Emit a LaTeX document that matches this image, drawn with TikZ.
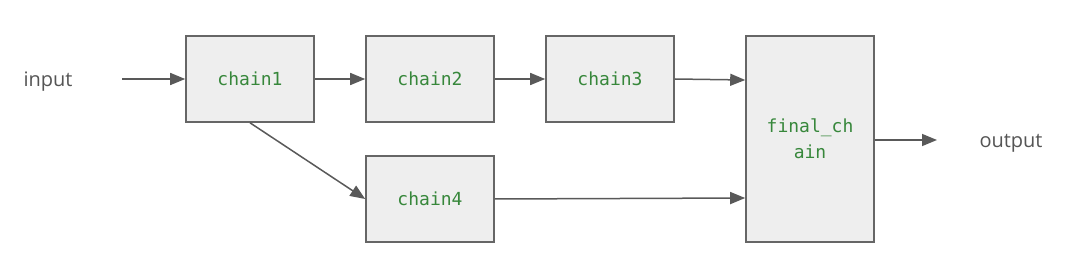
\documentclass[tikz,border=0pt]{standalone}
\usepackage{fontspec}
\setmainfont{Open Sans}
\setmonofont{DejaVu Sans Mono}
\usetikzlibrary{arrows.meta}
\definecolor{boxfill}{HTML}{EEEEEE}
\definecolor{boxline}{HTML}{666666}
\definecolor{txtgreen}{HTML}{37873B}
\definecolor{lblgrey}{HTML}{555555}
\definecolor{arrgrey}{HTML}{595959}
\begin{document}
\begin{tikzpicture}[x=1pt,y=-1pt,
  blk/.style={draw=boxline, line width=1.6pt, fill=boxfill, minimum width=128pt, minimum height=86pt, inner sep=0pt, align=center, text=txtgreen, font=\ttfamily\fontsize{18}{26}\selectfont},
  lbl/.style={text=lblgrey, font=\fontsize{20}{24}\selectfont, inner sep=0pt},
  conn/.style={draw=arrgrey, line width=1.5pt, -{Triangle[length=15pt,width=12pt]}}]
\useasboundingbox (0,0) rectangle (1086,264);
\node[blk] (c1) at (250,79) {chain1};
\node[blk] (c2) at (430,79) {chain2};
\node[blk] (c3) at (610,79) {chain3};
\node[blk] (c4) at (430,199) {chain4};
\node[blk, minimum height=206pt] (fc) at (810,139) {final\_ch\\ain};
\node[lbl] (in) at (48,82) {input};
\node[lbl] (out) at (1011,143) {output};
\coordinate (ins) at (122,79);
\coordinate (oute) at (937,140);
\draw[conn] (ins) -- (c1.west);
\draw[conn] (c1) -- (c2);
\draw[conn] (c2) -- (c3);
\draw[conn] (c3.east) -- (fc.west |- 0,80);
\draw[conn] (c1.south) -- (c4.west);
\draw[conn] (c4.east) -- (fc.west |- 0,198);
\draw[conn] (fc.east |- 0,140) -- (oute);
\end{tikzpicture}
\end{document}
